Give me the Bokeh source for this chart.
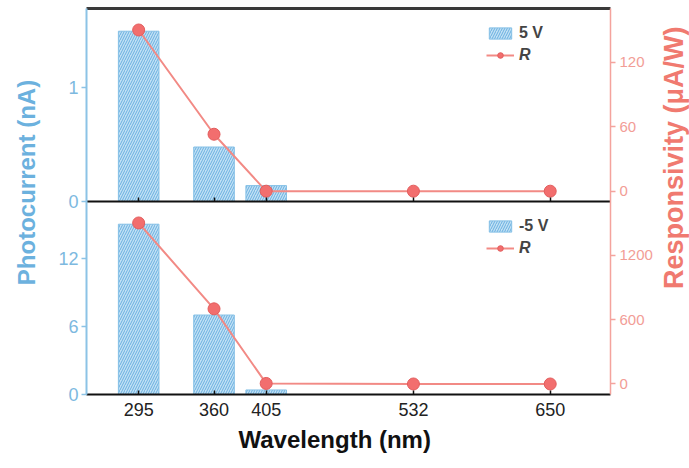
import numpy as np
from bokeh.plotting import figure
from bokeh.models import Range1d, LinearAxis, FixedTicker, Legend, LegendItem, Title
from bokeh.layouts import row
from bokeh.embed import file_html
from bokeh.resources import INLINE
from bokeh.core.properties import value

# ---- data ----
wavelengths = [295, 360, 405, 532, 650]
current_5v = [1.50, 0.48, 0.14, 0.0, 0.0]       # nA
resp_5v = [150, 53, 0, 0, 0]                     # uA/W
current_m5v = [15.0, 7.0, 0.4, 0.0, 0.0]         # nA
resp_m5v = [1500, 700, 5, 0, 0]                  # uA/W
top_left_ticks = [0, 1]
top_right_ticks = [0, 60, 120]
bot_left_ticks = [0, 6, 12]
bot_right_ticks = [0, 600, 1200]
label_top = "5 V"
label_bot = "-5 V"
x_title = "Wavelength (nm)"
yl_title = "Photocurrent (nA)"
yr_title = "Responsivity (\u03bcA/W)"

FONT_NAME = "Liberation Sans"
BLUE_AX = "#8cc3e6"
BLUE_TXT = "#7db9df"
BLUE_TITLE = "#6cb1de"
RED_AX = "#f4a39d"
RED_TXT = "#f29d96"
RED_TITLE = "#f07a70"
BAR_FILL = "#c2e1f5"
BAR_HATCH = "#5fa9dc"
BAR_LINE = "#85c0e6"
R_LINE = "#f28a85"
R_FILL = "#f26e6e"

X0, X1 = 250, 702
# each panel occupies one half of the frame: top half / bottom half
top_left_rng = Range1d(-1.7, 1.7)
bot_left_rng = Range1d(0, 34)
top_right_rng = Range1d(-9.6 - 179.6, 170)
bot_right_rng = Range1d(-98, 1700 + 1798)


def to_range(v, src, dst):
    """position of value v of range src, expressed in range dst"""
    return dst.start + (v - src.start) * (dst.end - dst.start) / (src.end - src.start)


p = figure(width=600, height=468, x_range=Range1d(X0, X1), y_range=top_left_rng,
           output_backend="svg", toolbar_location=None,
           min_border_left=30, min_border_right=44, min_border_top=8, min_border_bottom=74,
           x_axis_location=None, y_axis_location=None)
p.extra_y_ranges = {"bl": bot_left_rng, "tr": top_right_rng, "br": bot_right_rng}
p.outline_line_color = None
p.grid.visible = False
p.background_fill_color = "white"
p.border_fill_color = "white"

# ---- left axis: one axis carrying the ticks of both panels ----
l_pos, l_lab = [], {}
for t in top_left_ticks:
    l_pos.append(float(t)); l_lab[float(t)] = str(t)
for t in bot_left_ticks:
    pos = to_range(t, bot_left_rng, top_left_rng)
    l_pos.append(pos); l_lab[pos] = str(t)
la = LinearAxis(ticker=FixedTicker(ticks=l_pos), major_label_overrides=l_lab)
la.axis_line_color = BLUE_AX
la.axis_line_width = 2
la.major_tick_line_color = BLUE_AX
la.major_tick_line_width = 1.5
la.major_tick_out = 5
la.major_tick_in = 0
la.minor_tick_line_color = None
la.major_label_text_color = BLUE_TXT
la.major_label_text_font = FONT_NAME
la.major_label_text_font_size = "18px"
la.major_label_standoff = 3
p.add_layout(la, "left")

# ---- right axis ----
r_pos, r_lab = [], {}
for t in top_right_ticks:
    r_pos.append(float(t)); r_lab[float(t)] = str(t)
for t in bot_right_ticks:
    pos = to_range(t, bot_right_rng, top_right_rng)
    r_pos.append(pos); r_lab[pos] = str(t)
ra = LinearAxis(y_range_name="tr", ticker=FixedTicker(ticks=r_pos), major_label_overrides=r_lab)
ra.axis_line_color = RED_AX
ra.axis_line_width = 1.5
ra.major_tick_line_color = RED_AX
ra.major_tick_line_width = 1.5
ra.major_tick_out = 5
ra.major_tick_in = 0
ra.minor_tick_line_color = None
ra.major_label_text_color = RED_TXT
ra.major_label_text_font = FONT_NAME
ra.major_label_text_font_size = "15px"
ra.major_label_standoff = 4
p.add_layout(ra, "right")

# ---- bottom x axis with labels ----
xa = LinearAxis(ticker=FixedTicker(ticks=wavelengths))
xa.axis_line_color = "#111111"
xa.axis_line_width = 2
xa.major_tick_line_color = "#111111"
xa.major_tick_line_width = 1.5
xa.major_tick_in = 4
xa.major_tick_out = 0
xa.minor_tick_line_color = None
xa.major_label_text_font = FONT_NAME
xa.major_label_text_font_size = "18px"
xa.major_label_text_color = "#222222"
xa.major_label_standoff = 8
p.add_layout(xa, "below")

# ---- middle x axis (bottom edge of the top panel), no labels ----
xm = LinearAxis(ticker=FixedTicker(ticks=wavelengths), fixed_location=0)
xm.axis_line_color = "#111111"
xm.axis_line_width = 2
xm.major_tick_line_color = "#111111"
xm.major_tick_line_width = 1.5
xm.major_tick_in = 4
xm.major_tick_out = 0
xm.minor_tick_line_color = None
xm.major_label_text_color = None
xm.major_label_text_font_size = "1px"
xm.major_label_standoff = 0
p.add_layout(xm, "below")

# ---- top frame line ----
xt = LinearAxis(ticker=FixedTicker(ticks=[]))
xt.axis_line_color = "#3a3a3a"
xt.axis_line_width = 3
xt.major_tick_line_color = None
xt.minor_tick_line_color = None
xt.major_label_text_color = None
xt.major_label_text_font_size = "1px"
xt.major_label_standoff = 0
p.add_layout(xt, "above")

p.add_layout(Title(text=x_title, align="left", offset=152, standoff=10,
                   text_font=FONT_NAME, text_font_size="24px", text_font_style="bold",
                   text_color="#111111"), "below")


def series(cur, resp, lname, rname):
    kw = {} if lname is None else {"y_range_name": lname}
    bars = p.vbar(x=wavelengths, top=cur, bottom=0, width=35,
                  fill_color=BAR_FILL, line_color=BAR_LINE, line_width=1,
                  hatch_pattern="right_diagonal_line", hatch_color=BAR_HATCH,
                  hatch_scale=5, hatch_weight=0.9, **kw)
    ln = p.line(wavelengths, resp, y_range_name=rname, line_color=R_LINE, line_width=2)
    sc = p.scatter(wavelengths, resp, y_range_name=rname, size=12,
                   fill_color=R_FILL, line_color="#e35d5d", line_width=1)
    return bars, ln, sc


def legends(bars, ln, sc, label, y_bar, y_r):
    common = dict(padding=0, margin=0, border_line_color=None, background_fill_alpha=0,
                  glyph_width=28, glyph_height=14, label_text_font=FONT_NAME,
                  label_text_font_size="16px", label_standoff=5)
    p.add_layout(Legend(items=[LegendItem(label=label, renderers=[bars])],
                        location=(400, y_bar), label_text_font_style="bold", **common))
    p.add_layout(Legend(items=[LegendItem(label="R", renderers=[ln, sc])],
                        location=(400, y_r), label_text_font_style="bold italic", **common))


b1, l1, s1 = series(current_5v, resp_5v, None, "tr")
b2, l2, s2 = series(current_m5v, resp_m5v, "bl", "br")
legends(b1, l1, s1, label_top, 352, 330)
legends(b2, l2, s2, label_bot, 159, 137)


def label_fig(w, xpos, ypos, txt, color, size):
    f = figure(width=w, height=468, x_range=Range1d(0, w), y_range=Range1d(0, 468),
               output_backend="svg", toolbar_location=None, min_border=0,
               x_axis_location=None, y_axis_location=None)
    f.outline_line_color = None
    f.grid.visible = False
    f.text(x=[xpos], y=[468 - ypos], text=[txt], angle=np.pi / 2,
           text_align="center", text_baseline="middle", text_font=value(FONT_NAME),
           text_font_style="bold", text_font_size=size, text_color=color)
    return f


lf = label_fig(55, 26, 211, yl_title, BLUE_TITLE, "24px")
rf = label_fig(34, 18, 181, yr_title, RED_TITLE, "27px")

layout = row(lf, p, rf)
open("out.html", "w").write(file_html(layout, INLINE))
